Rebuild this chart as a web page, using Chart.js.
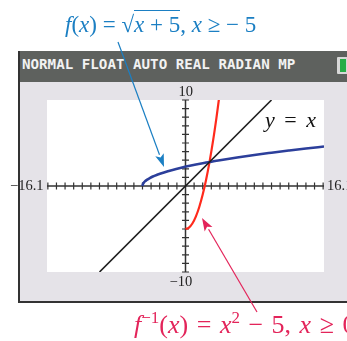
<!DOCTYPE html>
<html lang="en">
<head>
  <meta charset="UTF-8">
  <title>f(x) and its inverse</title>
  <script src="https://cdn.jsdelivr.net/npm/chart.js"></script>
  <style>
    html, body { margin: 0; padding: 0; background: #fff; }
    body { width: 347px; height: 341px; position: relative; overflow: hidden; }
    .screen { position: absolute; left: 18px; top: 51px; width: 340px; height: 250px;
      background: #e5e3e8; border-left: 2px solid #333; border-bottom: 2px solid #333; }
    .status { position: absolute; left: 0; top: 0; right: 0; height: 31px; background: #5e615e; }
    .status span { position: absolute; left: 2px; top: 5px; color: #f2f2f2;
      font: bold 14.2px "DejaVu Sans Mono", monospace; letter-spacing: 0; }
    .battery { position: absolute; left: 317px; top: 6px; width: 12px; height: 17px;
      background: #d8d8d8; border-radius: 1px; }
    .battery i { position: absolute; left: 3px; top: 2px; width: 6px; height: 13px; background: #27ad47; }
    #chart { position: absolute; left: 0; top: 0; z-index: 2; }
    .lbl { position: absolute; z-index: 3; white-space: nowrap; font-family: "Liberation Serif", serif; line-height: 1; }
    .tick { font-size: 14.5px; color: #222; }
    .title { left: 65px; top: 13px; font-size: 23px; color: #1b7fc3; }
    .inv { left: 134px; top: 309px; font-size: 26px; word-spacing: 2px; color: #e3245a; }
    .yx { left: 265px; top: 109px; font-size: 22px; word-spacing: 4px; color: #111; }
    .ov { border-top: 1.5px solid currentColor; padding-top: 1px; }
    i.v { font-style: italic; }
  </style>
</head>
<body>
  <div class="screen">
    <div class="status"><span>NORMAL FLOAT AUTO REAL RADIAN MP</span><div class="battery"><i></i></div></div>
  </div>
  <canvas id="chart" width="347" height="341"></canvas>

  <div class="lbl title"><i class="v">f</i>(<i class="v">x</i>) = √<span class="ov"><i class="v">x</i> + 5</span>, <i class="v">x</i> ≥ − 5</div>
  <div class="lbl inv"><i class="v">f</i><sup style="font-size:17px">−1</sup>(<i class="v">x</i>) = <i class="v">x</i><sup style="font-size:17px">2</sup> − 5, <i class="v">x</i> ≥ 0</div>
  <div class="lbl yx"><i class="v">y</i> = <i class="v">x</i></div>
  <div class="lbl tick" id="t-ytop">10</div>
  <div class="lbl tick" id="t-ybot">−10</div>
  <div class="lbl tick" id="t-xmin">−16.1</div>
  <div class="lbl tick" id="t-xmax">16.1</div>

  <script>
    // window of the calculator
    const xMin = -16.1, xMax = 16.1, yMin = -10, yMax = 10;

    // f(x) = sqrt(x + 5)
    const fX = [-5, -4.95, -4.85, -4.7, -4.5, -4.2, -3.8, -3.3, -2.5, -1.5, -0.5, 0.5, 2, 4, 6, 8, 10, 12, 14, 16.1];
    const fY = [0, 0.22, 0.39, 0.55, 0.71, 0.89, 1.1, 1.3, 1.58, 1.87, 2.12, 2.35, 2.65, 3, 3.32, 3.61, 3.87, 4.12, 4.36, 4.59];

    // f^-1(x) = x^2 - 5, x >= 0
    const gX = [0, 0.4, 0.8, 1.2, 1.6, 2, 2.4, 2.8, 3.2, 3.6, 3.9];
    const gY = [-5, -4.84, -4.36, -3.56, -2.44, -1, 0.76, 2.84, 5.24, 7.96, 10.2];

    // y = x
    const lX = [-10, 10];
    const lY = [-10, 10];

    const pts = (xs, ys) => xs.map((x, i) => ({ x, y: ys[i] }));

    const frame = {
      id: 'frame',
      beforeDatasetsDraw(chart) {
        const { ctx, chartArea: a, scales: { x, y } } = chart;
        ctx.save();
        ctx.fillStyle = '#fff';
        ctx.fillRect(a.left, a.top, a.right - a.left, a.bottom - a.top);
        const x0 = x.getPixelForValue(0), y0 = y.getPixelForValue(0);
        ctx.strokeStyle = '#333';
        ctx.lineWidth = 1.5;
        ctx.beginPath();
        ctx.moveTo(a.left, y0); ctx.lineTo(a.right, y0);
        ctx.moveTo(x0, a.top); ctx.lineTo(x0, a.bottom);
        ctx.stroke();
        ctx.lineWidth = 1.2;
        ctx.beginPath();
        for (let v = -16; v <= 16; v++) {
          if (!v) continue;
          const p = x.getPixelForValue(v);
          ctx.moveTo(p, y0 - 3.5); ctx.lineTo(p, y0 + 3.5);
        }
        for (let v = -10; v <= 10; v++) {
          if (!v) continue;
          const p = y.getPixelForValue(v);
          ctx.moveTo(x0 - 3.5, p); ctx.lineTo(x0 + 3.5, p);
        }
        ctx.stroke();
        ctx.restore();

        // place the window labels from the scales
        const put = (id, left, top) => {
          const el = document.getElementById(id);
          el.style.left = left + 'px'; el.style.top = top + 'px';
        };
        put('t-ytop', x0 - 7, a.top - 16);
        put('t-ybot', x0 - 16, a.bottom + 2);
        put('t-xmin', a.left - 37, y0 - 8);
        put('t-xmax', a.right + 3, y0 - 8);
      },
      afterDraw(chart) {
        const ctx = chart.ctx;
        const arrow = (x1, y1, x2, y2, color) => {
          const ang = Math.atan2(y2 - y1, x2 - x1), len = 13, w = 4.5;
          const bx = x2 - len * Math.cos(ang), by = y2 - len * Math.sin(ang);
          ctx.save();
          ctx.strokeStyle = color; ctx.fillStyle = color; ctx.lineWidth = 1.2;
          ctx.beginPath(); ctx.moveTo(x1, y1); ctx.lineTo(bx, by); ctx.stroke();
          ctx.beginPath();
          ctx.moveTo(x2, y2);
          ctx.lineTo(bx + w * Math.sin(ang), by - w * Math.cos(ang));
          ctx.lineTo(bx + 3 * Math.cos(ang), by + 3 * Math.sin(ang));
          ctx.lineTo(bx - w * Math.sin(ang), by + w * Math.cos(ang));
          ctx.closePath(); ctx.fill();
          ctx.restore();
        };
        arrow(118, 42, 164, 167, '#1b7fc3');
        arrow(257, 312, 202, 218, '#e3245a');
      }
    };

    new Chart(document.getElementById('chart'), {
      type: 'scatter',
      data: {
        datasets: [
          { data: pts(lX, lY), borderColor: '#1e1e1e', borderWidth: 1.6, showLine: true, pointRadius: 0 },
          { data: pts(fX, fY), borderColor: '#2c3f9b', borderWidth: 2.6, showLine: true, pointRadius: 0, cubicInterpolationMode: 'monotone' },
          { data: pts(gX, gY), borderColor: '#ff2a1c', borderWidth: 2.2, showLine: true, pointRadius: 0, tension: 0.4 }
        ]
      },
      options: {
        responsive: false,
        animation: false,
        layout: { padding: { left: 47, right: 23, top: 100, bottom: 69 } },
        plugins: { legend: { display: false }, tooltip: { enabled: false } },
        scales: {
          x: { type: 'linear', min: xMin, max: xMax, display: false },
          y: { type: 'linear', min: yMin, max: yMax, display: false }
        }
      },
      plugins: [frame]
    });
  </script>
</body>
</html>
